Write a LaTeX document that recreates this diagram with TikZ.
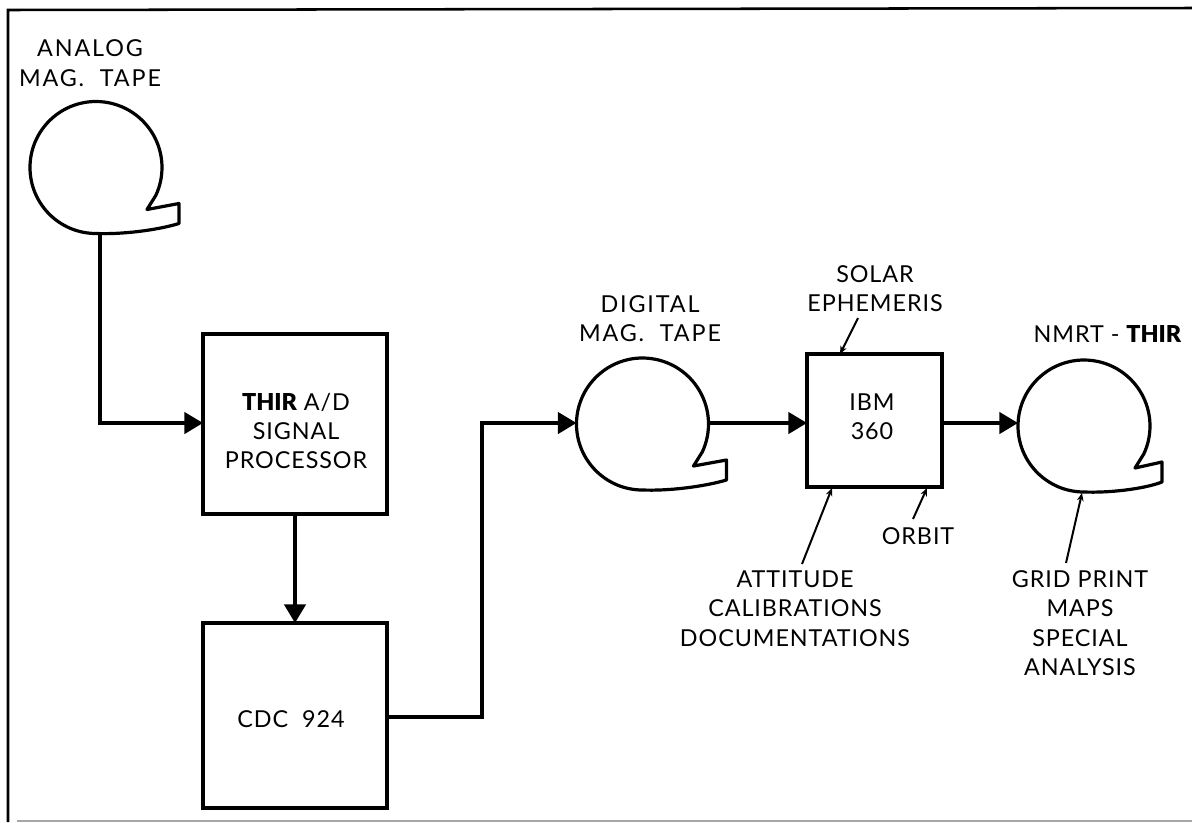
\documentclass[tikz,border=0pt]{standalone}
\usepackage{fontspec}
\setmainfont[LetterSpace=4]{Lato}
\newfontfamily\boldf{Lato Black}
\newfontfamily\widef[LetterSpace=8]{Lato}
\usetikzlibrary{arrows.meta}
\tikzset{
  x=.75pt,y=.75pt,
  tapeline/.style={line width=2.4pt,line join=round},
  boxnode/.style={draw,line width=2.4pt,inner sep=0pt,outer sep=0pt,align=center,anchor=north west},
  flow/.style={line width=2.6pt,-{Triangle[length=14pt,width=16pt]}},
  feed/.style={line width=1.5pt,-{Stealth[length=6pt,width=5pt]}},
  lab/.style={font=\fontsize{17.5}{21}\selectfont,align=center,inner sep=0pt},
}
\newcommand{\tapeat}[4]{%
  \node[circle,minimum size=99pt,inner sep=0pt,outer sep=0pt] (#1) at (#2,#3) {};
  \draw[tapeline,shift={(#2,#3)}] (0,-66) arc[start angle=270,delta angle=-295,radius=66]
     -- (51,-42) -- (#4,-36) -- (#4,-56) .. controls (60,-63) and (25,-67) .. (0,-66) -- cycle;
}
\begin{document}
\begin{tikzpicture}
\useasboundingbox (0,0) rectangle (1192,-822);
% frame
\coordinate (f1) at (8,-822); \coordinate (f2) at (8,-10); \coordinate (f3) at (1192,-8);
\draw[line width=1.9pt] (f1) -- (f2) -- (f3);
\coordinate (f4) at (17,-821); \coordinate (f5) at (1192,-821);
\draw[line width=.8pt,black!35] (f4) -- (f5);
% tapes
\tapeat{ta}{96}{-167.5}{83}
\tapeat{tb}{642.5}{-424}{84}
\tapeat{tc}{1084}{-426}{78}
% boxes
\node[boxnode,minimum width=138pt,minimum height=135pt] (thir) at (203,-334) {};
\node[boxnode,minimum width=138pt,minimum height=138.75pt] (cdc) at (203,-623) {};
\node[boxnode,minimum width=101.25pt,minimum height=99.75pt] (ibm) at (807,-354) {};
% box text
\node[lab] (thirt) at (296,-431) {{\boldf THIR} A/D\\[1pt]SIGNAL\\[1pt]PROCESSOR};
\node[lab] (cdct) at (291,-719) {CDC\ \ 924};
\node[lab] (ibmt) at (872,-417) {IBM\\[1pt]360};
% labels
\node[lab] (l1) at (90,-63) {\widef ANALOG\\[1pt]\widef MAG.\ \ TAPE};
\node[lab] (l2) at (650,-318.5) {\widef DIGITAL\\[1pt]\widef MAG.\ \ TAPE};
\node[lab] (l3) at (875,-288.5) {SOLAR\\[1pt]EPHEMERIS};
\node[lab] (l4) at (1107.5,-334) {NMRT - {\boldf THIR}};
\node[lab] (l5) at (795,-608.5) {ATTITUDE\\[1pt]CALIBRATIONS\\[1pt]DOCUMENTATIONS};
\node[lab] (l6) at (918,-536) {ORBIT};
\node[lab] (l7) at (1080,-623) {GRID PRINT\\[1pt]MAPS\\[1pt]SPECIAL\\[1pt]ANALYSIS};
% flows
\coordinate (c1) at (100,-423); \coordinate (c2) at (100,-233);
\draw[flow] (c2) -- (c1) -- (thir.west |- c1);
\draw[flow] (thir.south) -- (cdc.north);
\coordinate (c3) at (482,-717); \coordinate (c4) at (482,-423);
\draw[flow] (cdc.east |- c3) -- (c3) -- (c4) -- (tb.west |- c4);
\draw[flow] (tb.east |- c4) -- (ibm.west |- c4);
\draw[flow] (ibm.east |- c4) -- (tc.west |- c4);
% feeds
\coordinate (s1) at (858,-318); \coordinate (s2) at (840,-354);
\coordinate (a1) at (802,-564); \coordinate (a2) at (832,-488);
\coordinate (o1) at (913,-519); \coordinate (o2) at (927,-488);
\coordinate (g1) at (1066,-563); \coordinate (g2) at (1082,-493);
\draw[feed] (s1) -- (s2);
\draw[feed] (a1) -- (a2);
\draw[feed] (o1) -- (o2);
\draw[feed] (g1) -- (g2);
\end{tikzpicture}
\end{document}
